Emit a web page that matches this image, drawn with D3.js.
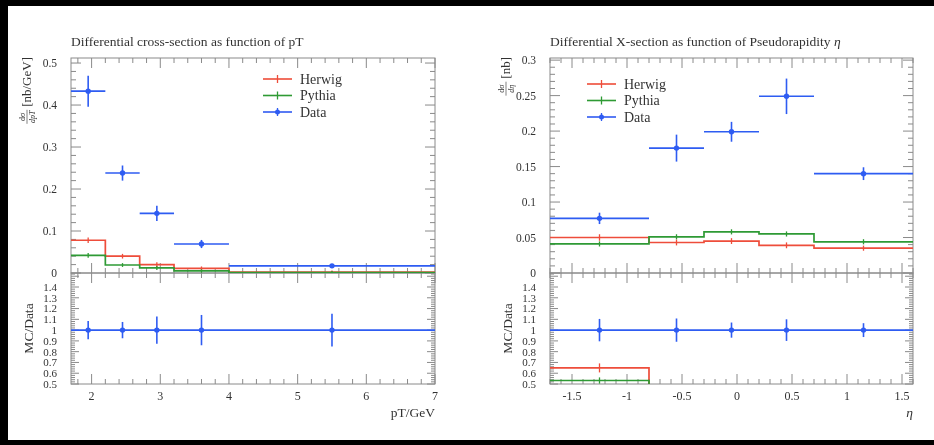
<!DOCTYPE html>
<html>
<head>
<meta charset="utf-8">
<script src="https://cdn.jsdelivr.net/npm/d3@7"></script>
<style>
  body { margin: 0; background: #fff; }
  svg { display: block; font-family: "Liberation Serif", "DejaVu Serif", serif; }
</style>
</head>
<body>
<script>
// ---- data ----
var ptEdges = [1.7, 2.2, 2.7, 3.2, 4.0, 7.0];
var ptData = [0.433, 0.238, 0.142, 0.069, 0.017];
var ptDataErr = [0.037, 0.018, 0.018, 0.0097, 0.0026];
var ptHerwig = [0.078, 0.040, 0.020, 0.011, 0.002];
var ptHerwigErr = [0.003, 0.002, 0.002, 0.001, 0.0005];
var ptPythia = [0.042, 0.019, 0.012, 0.005, 0.001];
var ptPythiaErr = [0.002, 0.001, 0.001, 0.0005, 0.0003];
var ptTicks = [2, 3, 4, 5, 6, 7];
var ptYTicks = [0, 0.1, 0.2, 0.3, 0.4, 0.5];

var etaEdges = [-1.7, -0.8, -0.3, 0.2, 0.7, 1.6];
var etaData = [0.077, 0.176, 0.199, 0.249, 0.140];
var etaDataErr = [0.008, 0.019, 0.014, 0.025, 0.009];
var etaHerwig = [0.050, 0.043, 0.045, 0.039, 0.035];
var etaHerwigErr = [0.0025, 0.002, 0.002, 0.002, 0.0015];
var etaPythia = [0.041, 0.051, 0.058, 0.055, 0.044];
var etaPythiaErr = [0.0015, 0.0015, 0.0015, 0.0015, 0.0015];
var etaTicks = [-1.5, -1, -0.5, 0, 0.5, 1, 1.5];
var etaYTicks = [0, 0.05, 0.1, 0.15, 0.2, 0.25, 0.3];

var ratioTicks = [0.5, 0.6, 0.7, 0.8, 0.9, 1, 1.1, 1.2, 1.3, 1.4];
var legendNames = ["Herwig", "Pythia", "Data"];

var colors = { Herwig: "#ee4d3a", Pythia: "#2f9a34", Data: "#2f5cf2" };

var width = 934, height = 445;
var svg = d3.select("body").append("svg")
  .attr("width", width).attr("height", height);

// the reference is a soft screenshot, so blur a touch
svg.append("filter").attr("id", "soft")
  .append("feGaussianBlur").attr("stdDeviation", 0.45);

var root = svg.append("g").attr("filter", "url(#soft)");

// black frame of the screenshot
root.append("rect").attr("x", 0).attr("y", 0).attr("width", 8).attr("height", height).attr("fill", "#000");
root.append("rect").attr("x", 0).attr("y", 0).attr("width", width).attr("height", 6).attr("fill", "#000");
root.append("rect").attr("x", 0).attr("y", 440).attr("width", width).attr("height", 5).attr("fill", "#000");

var yTop = 58, yMid = 273, yBot = 384;

function drawPanel(cfg) {
  var g = root.append("g");
  var x = d3.scaleLinear().domain(cfg.xDomain).range([cfg.x0, cfg.x1]);
  var y = d3.scaleLinear().domain(cfg.yDomain).range([yMid, yTop]);
  var r = d3.scaleLinear().domain([0.5, 1.53]).range([yBot, yMid]);

  var clipId = "clip" + cfg.id;
  var clipR = "clipr" + cfg.id;
  svg.append("clipPath").attr("id", clipId).append("rect")
    .attr("x", cfg.x0).attr("y", yTop).attr("width", cfg.x1 - cfg.x0).attr("height", yMid - yTop);
  svg.append("clipPath").attr("id", clipR).append("rect")
    .attr("x", cfg.x0).attr("y", yMid).attr("width", cfg.x1 - cfg.x0).attr("height", yBot - yMid);

  // title
  g.append("text").attr("x", cfg.x0).attr("y", 46)
    .attr("font-size", 13.5).attr("fill", "#333").text(cfg.title)
    .append("tspan").attr("font-style", "italic").text(cfg.titleTail || "");

  // frames
  g.append("rect").attr("x", cfg.x0).attr("y", yTop).attr("width", cfg.x1 - cfg.x0)
    .attr("height", yMid - yTop).attr("fill", "none").attr("stroke", "#8a8a8a");
  g.append("rect").attr("x", cfg.x0).attr("y", yMid).attr("width", cfg.x1 - cfg.x0)
    .attr("height", yBot - yMid).attr("fill", "none").attr("stroke", "#8a8a8a");

  var ticks = g.append("g").attr("stroke", "#8a8a8a").attr("stroke-width", 1);

  // x ticks (both panels, top and bottom edges)
  var xMinor = d3.range(Math.ceil(cfg.xDomain[0] / cfg.xMinor - 1e-9), Math.floor(cfg.xDomain[1] / cfg.xMinor + 1e-9) + 1)
    .map(function (i) { return +(i * cfg.xMinor).toFixed(4); });
  xMinor.forEach(function (v) {
    var major = cfg.xTicks.indexOf(v) >= 0;
    var len = major ? 10 : 5;
    var px = x(v);
    [[yTop, 1], [yMid, -1], [yMid, 1], [yBot, -1]].forEach(function (e) {
      ticks.append("line").attr("x1", px).attr("x2", px)
        .attr("y1", e[0]).attr("y2", e[0] + e[1] * len);
    });
  });

  // y ticks main
  var yMinor = d3.range(0, Math.floor(cfg.yDomain[1] / cfg.yMinor + 1e-9) + 1)
    .map(function (i) { return +(i * cfg.yMinor).toFixed(4); });
  yMinor.forEach(function (v) {
    var major = cfg.yTicks.indexOf(v) >= 0;
    var len = major ? 10 : 5;
    var py = y(v);
    ticks.append("line").attr("x1", cfg.x0).attr("x2", cfg.x0 + len).attr("y1", py).attr("y2", py);
    ticks.append("line").attr("x1", cfg.x1).attr("x2", cfg.x1 - len).attr("y1", py).attr("y2", py);
  });

  // y ticks ratio
  d3.range(25, 77).map(function (i) { return +(i * 0.02).toFixed(2); }).forEach(function (v) {
    var major = Math.abs(v * 10 - Math.round(v * 10)) < 1e-6;
    var len = major ? 8 : 4;
    var py = r(v);
    ticks.append("line").attr("x1", cfg.x0).attr("x2", cfg.x0 + len).attr("y1", py).attr("y2", py);
    ticks.append("line").attr("x1", cfg.x1).attr("x2", cfg.x1 - len).attr("y1", py).attr("y2", py);
  });

  // tick labels
  var lab = g.append("g").attr("font-size", 11.5).attr("fill", "#333");
  cfg.yTicks.forEach(function (v) {
    lab.append("text").attr("x", cfg.x0 - 14).attr("y", y(v)).attr("dy", "0.35em")
      .attr("text-anchor", "end").text(v);
  });
  ratioTicks.forEach(function (v) {
    lab.append("text").attr("x", cfg.x0 - 14).attr("y", r(v)).attr("dy", "0.35em")
      .attr("text-anchor", "end").attr("font-size", 11).text(v);
  });
  cfg.xTicks.forEach(function (v) {
    lab.append("text").attr("x", x(v)).attr("y", 400)
      .attr("text-anchor", "middle").attr("font-size", 12).text(v);
  });
  g.append("text").attr("x", cfg.x1).attr("y", 417).attr("text-anchor", "end")
    .attr("font-size", 13.5).attr("fill", "#333")
    .attr("font-style", cfg.xLabelItalic ? "italic" : null).text(cfg.xLabel);

  // y labels
  var yl = g.append("g").attr("transform", "translate(" + (cfg.x0 - 45) + "," + (yTop - 1) + ") rotate(-90)")
    .attr("fill", "#333");
  var unit = yl.append("text").attr("x", 0).attr("y", 4.5).attr("text-anchor", "end")
    .attr("font-size", 13).text(cfg.unit);
  var uw = unit.node().getComputedTextLength();
  var fx = -uw - 10;
  yl.append("text").attr("x", fx).attr("y", -1).attr("text-anchor", "middle")
    .attr("font-size", 8).text("d\u03c3");
  yl.append("line").attr("x1", fx - 7).attr("x2", fx + 7).attr("y1", 1).attr("y2", 1)
    .attr("stroke", "#333").attr("stroke-width", 0.6);
  yl.append("text").attr("x", fx).attr("y", 8.5).attr("text-anchor", "middle")
    .attr("font-size", 8).attr("font-style", "italic").text(cfg.denom);

  g.append("text")
    .attr("transform", "translate(" + (cfg.x0 - 43) + "," + ((yMid + yBot) / 2) + ") rotate(-90)")
    .attr("text-anchor", "middle").attr("dy", "0.35em").attr("font-size", 13.5).attr("fill", "#333")
    .text("MC/Data");

  var centers = cfg.edges.slice(0, -1).map(function (e, i) { return (e + cfg.edges[i + 1]) / 2; });

  function steps(vals) {
    var pts = [];
    vals.forEach(function (v, i) {
      pts.push([cfg.edges[i], v]);
      pts.push([cfg.edges[i + 1], v]);
    });
    return pts;
  }

  // main panel MC
  var main = g.append("g").attr("clip-path", "url(#" + clipId + ")");
  var line = d3.line().x(function (d) { return x(d[0]); }).y(function (d) { return y(d[1]); });
  [["Herwig", cfg.herwig, cfg.herwigErr], ["Pythia", cfg.pythia, cfg.pythiaErr]].forEach(function (s) {
    main.append("path").attr("d", line(steps(s[1]))).attr("fill", "none")
      .attr("stroke", colors[s[0]]).attr("stroke-width", 1.7);
    main.selectAll(null).data(s[1]).enter().append("line")
      .attr("x1", function (d, i) { return x(centers[i]); })
      .attr("x2", function (d, i) { return x(centers[i]); })
      .attr("y1", function (d, i) { return y(d - s[2][i]) + 1.5; })
      .attr("y2", function (d, i) { return y(d + s[2][i]) - 1.5; })
      .attr("stroke", colors[s[0]]).attr("stroke-width", 1.3);
  });

  // main panel data
  var dg = main.append("g").attr("stroke", colors.Data).attr("fill", colors.Data);
  dg.selectAll(null).data(cfg.data).enter().append("line")
    .attr("x1", function (d, i) { return x(cfg.edges[i]); })
    .attr("x2", function (d, i) { return x(cfg.edges[i + 1]); })
    .attr("y1", function (d) { return y(d); }).attr("y2", function (d) { return y(d); })
    .attr("stroke-width", 1.6);
  dg.selectAll(null).data(cfg.data).enter().append("line")
    .attr("x1", function (d, i) { return x(centers[i]); })
    .attr("x2", function (d, i) { return x(centers[i]); })
    .attr("y1", function (d, i) { return y(d - cfg.dataErr[i]); })
    .attr("y2", function (d, i) { return y(d + cfg.dataErr[i]); })
    .attr("stroke-width", 1.6);
  dg.selectAll(null).data(cfg.data).enter().append("circle")
    .attr("cx", function (d, i) { return x(centers[i]); })
    .attr("cy", function (d) { return y(d); }).attr("r", 2.7).attr("stroke", "none");

  // ratio panel
  var rat = g.append("g").attr("clip-path", "url(#" + clipR + ")");
  var rline = d3.line().x(function (d) { return x(d[0]); }).y(function (d) { return r(d[1]); });
  [["Herwig", cfg.herwig, cfg.herwigErr], ["Pythia", cfg.pythia, cfg.pythiaErr]].forEach(function (s) {
    var ratio = s[1].map(function (v, i) { return v / cfg.data[i]; });
    rat.append("path").attr("d", rline(steps(ratio))).attr("fill", "none")
      .attr("stroke", colors[s[0]]).attr("stroke-width", 1.7);
    rat.selectAll(null).data(ratio).enter().append("line")
      .attr("x1", function (d, i) { return x(centers[i]); })
      .attr("x2", function (d, i) { return x(centers[i]); })
      .attr("y1", function (d, i) { return r(d - s[2][i] / cfg.data[i]) + 1; })
      .attr("y2", function (d, i) { return r(d + s[2][i] / cfg.data[i]) - 1; })
      .attr("stroke", colors[s[0]]).attr("stroke-width", 1.3);
  });
  var rg = rat.append("g").attr("stroke", colors.Data).attr("fill", colors.Data);
  rg.append("line").attr("x1", x(cfg.xDomain[0])).attr("x2", x(cfg.xDomain[1]))
    .attr("y1", r(1)).attr("y2", r(1)).attr("stroke-width", 1.6);
  rg.selectAll(null).data(cfg.data).enter().append("line")
    .attr("x1", function (d, i) { return x(centers[i]); })
    .attr("x2", function (d, i) { return x(centers[i]); })
    .attr("y1", function (d, i) { return r(1 - cfg.dataErr[i] / d); })
    .attr("y2", function (d, i) { return r(1 + cfg.dataErr[i] / d); })
    .attr("stroke-width", 1.6);
  rg.selectAll(null).data(cfg.data).enter().append("circle")
    .attr("cx", function (d, i) { return x(centers[i]); })
    .attr("cy", r(1)).attr("r", 2.7).attr("stroke", "none");

  // legend
  var leg = g.append("g").attr("transform", "translate(" + cfg.legX + "," + cfg.legY + ")");
  legendNames.forEach(function (n, i) {
    var ly = i * 16.5;
    leg.append("line").attr("x1", 0).attr("x2", 29).attr("y1", ly).attr("y2", ly)
      .attr("stroke", colors[n]).attr("stroke-width", 1.6);
    leg.append("line").attr("x1", 14.5).attr("x2", 14.5).attr("y1", ly - 4).attr("y2", ly + 4)
      .attr("stroke", colors[n]).attr("stroke-width", 1.3);
    if (n === "Data") {
      leg.append("circle").attr("cx", 14.5).attr("cy", ly).attr("r", 2.5).attr("fill", colors[n]);
    }
    leg.append("text").attr("x", 37).attr("y", ly).attr("dy", "0.35em")
      .attr("font-size", 14).attr("fill", "#333").text(n);
  });
}

drawPanel({
  id: "pt", x0: 71, x1: 435, xDomain: [1.7, 7], yDomain: [0, 0.512],
  xTicks: ptTicks, xMinor: 0.2, yTicks: ptYTicks, yMinor: 0.02,
  edges: ptEdges, data: ptData, dataErr: ptDataErr,
  herwig: ptHerwig, herwigErr: ptHerwigErr, pythia: ptPythia, pythiaErr: ptPythiaErr,
  title: "Differential cross-section as function of pT", xLabel: "pT/GeV",
  unit: "[nb/GeV]", denom: "dpT", legX: 263, legY: 79
});

drawPanel({
  id: "eta", x0: 550, x1: 913, xDomain: [-1.7, 1.6], yDomain: [0, 0.303],
  xTicks: etaTicks, xMinor: 0.1, yTicks: etaYTicks, yMinor: 0.01,
  edges: etaEdges, data: etaData, dataErr: etaDataErr,
  herwig: etaHerwig, herwigErr: etaHerwigErr, pythia: etaPythia, pythiaErr: etaPythiaErr,
  title: "Differential X-section as function of Pseudorapidity ", titleTail: "\u03b7",
  xLabel: "\u03b7", xLabelItalic: true,
  unit: "[nb]", denom: "d\u03b7", legX: 587, legY: 84
});
</script>
</body>
</html>
